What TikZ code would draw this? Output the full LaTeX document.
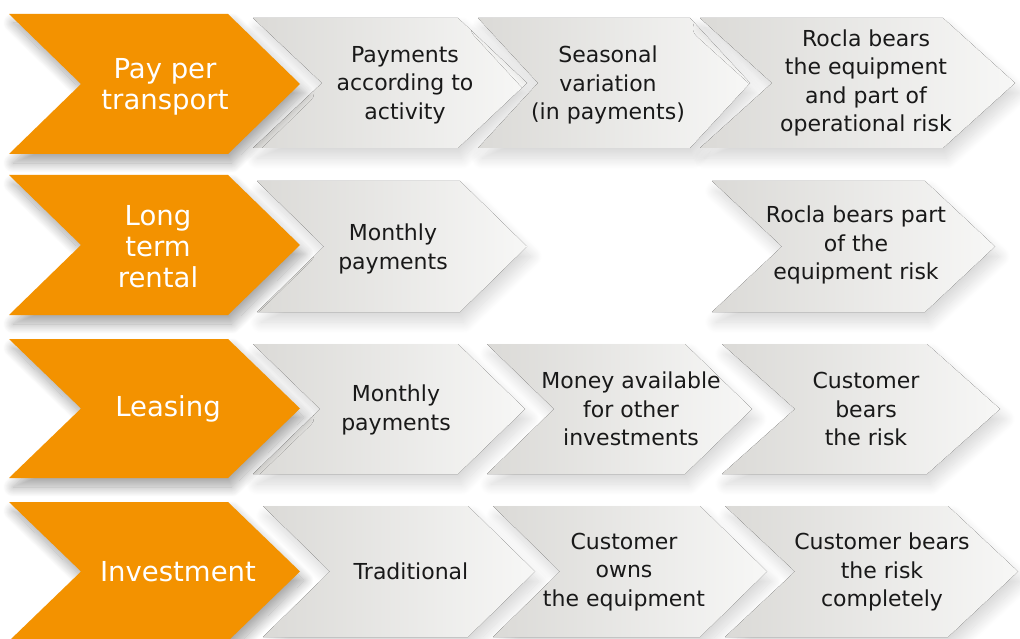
\documentclass[tikz,border=0pt]{standalone}
\usepackage{fontspec}
\setmainfont{DejaVu Sans}
\usepackage{tikz}
\usetikzlibrary{positioning, shadows.blur}
\definecolor{modelorange}{RGB}{243,146,0}
\definecolor{chevdark}{RGB}{219,218,215}
\definecolor{chevlight}{RGB}{247,247,246}

% chevron: style, left, top, top right, tip, bottom
\newcommand{\chev}[6]{%
	\fill[#1] (#2,#3) -- (#4,#3) -- (#5,{(#3+#6)/2}) -- (#4,#6) -- (#2,#6) -- ({#2+#5-#4},{(#3+#6)/2}) -- cycle;}

\begin{document}
\begin{tikzpicture}[x=1pt, y=-1pt,
	orangechev/.style={fill=modelorange, blur shadow={shadow xshift=4pt, shadow yshift=-9pt, shadow blur radius=10pt, shadow blur steps=20, shadow opacity=35}},
	graychev/.style={left color=chevdark, right color=chevlight, blur shadow={shadow xshift=4pt, shadow yshift=-10pt, shadow blur radius=11pt, shadow blur steps=20, shadow opacity=16}},
	headtext/.style={text=white, font=\fontsize{27.5}{31}\selectfont, align=center, inner sep=0pt},
	celltext/.style={text=black!90, font=\fontsize{22}{28.5}\selectfont, align=center, inner sep=0pt}]
		\useasboundingbox (0,0) rectangle (1020,639);
		
		% pay per transport
		\chev{graychev}{253}{18}{458}{527}{148}
		\chev{graychev}{478}{18}{690}{750}{148}
		\chev{graychev}{700}{18}{943}{1015}{148}
		\chev{orangechev}{9}{14}{228}{300}{154}
		\node[headtext] (pay) at (165,87) {Pay per\\transport};
		\node[celltext] (pay1) at (405,85) {Payments\\according to\\activity};
		\node[celltext] (pay2) at (608,85) {Seasonal\\variation\\(in payments)};
		\node[celltext] (pay3) at (866,83) {Rocla bears\\the equipment\\and part of\\operational risk};
		
		% long term rental
		\chev{graychev}{257}{181}{460}{527}{312}
		\chev{graychev}{712}{181}{925}{995}{312}
		\chev{orangechev}{9}{175}{228}{300}{315}
		\node[headtext] (rent) at (158,247) {Long\\term\\rental};
		\node[celltext] (rent1) at (393,249) {Monthly\\payments};
		\node[celltext] (rent2) at (856,245) {Rocla bears part\\of the\\equipment risk};
		
		% leasing
		\chev{graychev}{253}{344}{458}{525}{474}
		\chev{graychev}{487}{344}{685}{752}{474}
		\chev{graychev}{722}{344}{927}{1000}{474}
		\chev{orangechev}{9}{339}{228}{300}{478}
		\node[headtext] (lease) at (168,409) {Leasing};
		\node[celltext] (lease1) at (396,410) {Monthly\\payments};
		\node[celltext] (lease2) at (631,409) {Money available\\for other\\investments};
		\node[celltext] (lease3) at (866,409) {Customer\\bears\\the risk};
		
		% investment
		\chev{graychev}{263}{506}{468}{535}{637}
		\chev{graychev}{493}{506}{700}{767}{637}
		\chev{graychev}{725}{506}{948}{1018}{637}
		\chev{orangechev}{9}{502}{228}{300}{641}
		\node[headtext] (invest) at (178,572) {Investment};
		\node[celltext] (invest1) at (411,571) {Traditional};
		\node[celltext] (invest2) at (624,572) {Customer\\owns\\the equipment};
		\node[celltext] (invest3) at (882,572) {Customer bears\\the risk\\completely};
\end{tikzpicture}
\end{document}
